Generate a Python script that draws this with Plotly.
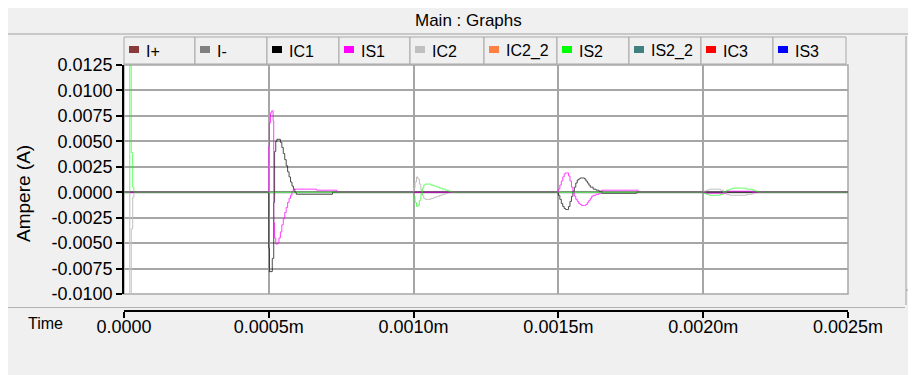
import plotly.graph_objects as go

# ---- data (time in s, current in A) ----
series_names = ["I+", "I-", "IC1", "IS1", "IC2", "IC2_2", "IS2", "IS2_2", "IC3", "IS3"]
series_colors = ["#8b3a3a", "#808080", "#000000", "#ff00ff", "#c0c0c0",
                 "#ff8040", "#00ff00", "#408080", "#ff0000", "#0000ff"]

t_flat = [0, 0.0025]
v_flat = [0, 0]

t_is2 = [0, 0.00002, 0.000025, 0.00003, 0.000034,
         0.001, 0.001005, 0.00101, 0.001015, 0.00102, 0.001025, 0.00103, 0.001035,
         0.00104, 0.00105, 0.00106, 0.00107, 0.00108, 0.00109, 0.0011, 0.00111, 0.00112, 0.00113,
         0.002, 0.00201, 0.00202, 0.00204, 0.00206, 0.00207, 0.00208, 0.00209, 0.0021,
         0.00213, 0.00215, 0.00217, 0.00218, 0.00219, 0.0025]
v_is2 = [0, 0.016, 0.0039, 0.0005, 0,
         -0.0004, -0.0010, -0.0014, -0.0013, -0.0008, -0.0002, 0.0004, 0.0007,
         0.0008, 0.0008, 0.0007, 0.0006, 0.0005, 0.0004, 0.0003, 0.0002, 0.0001, 0,
         -0.0001, -0.0002, -0.0003, -0.0003, -0.0002, 0, 0.0002, 0.0003, 0.0004,
         0.0004, 0.0003, 0.0002, 0.0001, 0, 0]

t_ic2 = [0, 0.00002, 0.000025, 0.00003, 0.000034,
         0.001, 0.001005, 0.00101, 0.001015, 0.00102, 0.001025, 0.00103, 0.001035,
         0.00104, 0.00105, 0.00106, 0.00107, 0.00108, 0.00109, 0.0011, 0.00111, 0.00112,
         0.002, 0.00201, 0.00202, 0.00204, 0.00206, 0.00207, 0.00208, 0.00209, 0.0021,
         0.00213, 0.00215, 0.00217, 0.00218, 0.0025]
v_ic2 = [0, -0.016, -0.0036, -0.0005, 0,
         0.0004, 0.0010, 0.0015, 0.0013, 0.0008, 0.0002, -0.0003, -0.0006,
         -0.0007, -0.0007, -0.0006, -0.0005, -0.0004, -0.0003, -0.0002, -0.0001, 0,
         0.0001, 0.0002, 0.0003, 0.0003, 0.0002, 0, -0.0002, -0.0003, -0.0003,
         -0.0003, -0.0002, -0.0001, 0, 0]

t_ic1 = [0, 0.0005, 0.000502, 0.000512, 0.000517, 0.00052, 0.000524, 0.000528,
         0.00054, 0.000545, 0.00055, 0.000555, 0.00056, 0.000565, 0.00057, 0.000575,
         0.00058, 0.000585, 0.00059, 0.000595, 0.00072,
         0.0015, 0.001505, 0.00151, 0.001515, 0.00152, 0.001525, 0.00153, 0.001535,
         0.00154, 0.001545, 0.00155, 0.001555, 0.00156, 0.001565, 0.00157, 0.001575,
         0.00158, 0.001585, 0.00159, 0.001595, 0.0016, 0.001605, 0.00161, 0.00162,
         0.00163, 0.00164, 0.00165, 0.00177, 0.0025]
v_ic1 = [0, -0.0055, -0.0078, -0.0065, -0.0010, 0.0040, 0.0050, 0.0052,
         0.0049, 0.0044, 0.0038, 0.0032, 0.0026, 0.0020, 0.0015, 0.0010,
         0.0006, 0.0003, 0, -0.0002, 0,
         -0.0003, -0.0007, -0.0011, -0.0014, -0.0016, -0.0017, -0.0017, -0.0014,
         -0.0009, -0.0004, 0.0001, 0.0005, 0.0009, 0.0012, 0.0013, 0.0014,
         0.0014, 0.0014, 0.0013, 0.0011, 0.0009, 0.0007, 0.0005, 0.0003,
         0.0002, 0.0001, -0.0001, 0, 0]

t_is1 = [0, 0.0005, 0.000502, 0.000506, 0.00051, 0.000515, 0.000517, 0.00052,
         0.000524, 0.00053, 0.000535, 0.00054, 0.000545, 0.00055, 0.000555, 0.00056,
         0.000565, 0.00057, 0.000575, 0.00058, 0.000585, 0.000665, 0.000735,
         0.0015, 0.001505, 0.00151, 0.001515, 0.00152, 0.001525, 0.00153, 0.001535,
         0.00154, 0.001545, 0.00155, 0.001555, 0.00156, 0.001565, 0.00157, 0.001575,
         0.00158, 0.001585, 0.00159, 0.001595, 0.0016, 0.001605, 0.00161, 0.001615,
         0.00162, 0.00163, 0.00164, 0.00165, 0.001775,
         0.00201, 0.00208, 0.00217, 0.0025]
v_is1 = [0, 0.0045, 0.0068, 0.0078, 0.0080, 0.0070, -0.0030, -0.0045,
         -0.0051, -0.0050, -0.0045, -0.0039, -0.0032, -0.0026, -0.0020, -0.0015,
         -0.0010, -0.0006, -0.0003, 0.0001, 0.0003, 0.0002, 0,
         0.0003, 0.0007, 0.0011, 0.0015, 0.0018, 0.0019, 0.0019, 0.0016,
         0.0011, 0.0005, 0.0000, -0.0004, -0.0007, -0.0009, -0.0011, -0.0012,
         -0.0013, -0.0013, -0.0013, -0.0012, -0.0010, -0.0008, -0.0006, -0.0004,
         -0.0003, -0.0002, -0.0001, 0.0002, 0,
         -0.0001, 0.0001, 0, 0]

x_ticks = [0, 0.0005, 0.0010, 0.0015, 0.0020, 0.0025]
x_tick_labels = ["0.0000", "0.0005m", "0.0010m", "0.0015m", "0.0020m", "0.0025m"]
y_ticks = [0.0125, 0.0100, 0.0075, 0.0050, 0.0025, 0.0, -0.0025, -0.0050, -0.0075, -0.0100]
y_tick_labels = ["0.0125", "0.0100", "0.0075", "0.0050", "0.0025", "0.0000",
                 "-0.0025", "-0.0050", "-0.0075", "-0.0100"]

# ---- pixel layout helpers (screen pixels; the page body adds an 8px offset) ----
W, H = 916, 375
OFF = 8
PL, PR, PT, PB = 124, 848, 65, 294   # plot box on screen
AXY = 311                             # time axis line on screen
FONT = "Liberation Sans, Arial, sans-serif"
GRID = "#a6a6a6"


def px(x):
    return (x - PL) / (PR - PL)


def py(y):
    return (AXY - y) / (AXY - PT)


def note(text, x, y, size, xanchor="center", **kw):
    return dict(text=text, xref="paper", yref="paper", x=px(x), y=py(y),
                xanchor=xanchor, yanchor="middle", showarrow=False,
                font=dict(size=size, color=kw.pop("color", "black"), family=FONT), **kw)


def hline(x0, x1, y, color="#a0a0a0"):
    return dict(type="line", xref="paper", yref="paper", x0=px(x0), x1=px(x1),
                y0=py(y), y1=py(y), line=dict(color=color, width=1))


data_map = {
    "IS2": (t_is2, v_is2), "IC2": (t_ic2, v_ic2),
    "IC1": (t_ic1, v_ic1), "IS1": (t_is1, v_is1),
}
draw_order = ["IC2_2", "IS2_2", "IC3", "IS3", "I+", "I-", "IC2", "IC1", "IS1", "IS2"]
widths = {"I-": 2}
opac = {"IS2": 0.6, "IS1": 0.75, "IC1": 0.7}

fig = go.Figure()
for name in draw_order:
    t, v = data_map.get(name, (t_flat, v_flat))
    col = series_colors[series_names.index(name)]
    fig.add_trace(go.Scatter(
        x=t, y=v, mode="lines", name=name, line_shape="hv",
        line=dict(color=col, width=widths.get(name, 1)),
        opacity=opac.get(name, 1), showlegend=False,
    ))

shapes = []
annotations = []

# window chrome
shapes.append(hline(8, W, 34))
shapes.append(hline(8, 905, 307.5, "#b4b4b4"))
shapes.append(dict(type="line", xref="paper", yref="paper", x0=px(906), x1=px(906),
                   y0=py(36), y1=py(305), line=dict(color="#a0a0a0", width=1)))
shapes.append(hline(906, W, 290))
annotations.append(note("Main : Graphs", 468, 20, 17))
annotations.append(note("▲", 916, 46, 7, xanchor="right", color="#333"))
annotations.append(note("▼", 916, 298, 7, xanchor="right", color="#333"))

# legend tabs
tab_edges = [124, 195, 267, 339, 410, 484, 557, 629, 701, 773, 846]
for i, name in enumerate(series_names):
    x0, x1 = tab_edges[i], tab_edges[i + 1]
    shapes.append(dict(type="rect", xref="paper", yref="paper",
                       x0=px(x0), x1=px(x1), y0=py(64), y1=py(37),
                       fillcolor="#f0f0f0", line=dict(color="#a8a8a8", width=1)))
    shapes.append(dict(type="rect", xref="paper", yref="paper",
                       x0=px(x0 + 5), x1=px(x0 + 15), y0=py(53), y1=py(46),
                       fillcolor=series_colors[i], line_width=0))
    annotations.append(note(name, x0 + 20, 51, 16, xanchor="left"))

# plot box border
shapes.append(dict(type="rect", xref="paper", yref="paper", x0=0, x1=1,
                   y0=py(PB), y1=1, line=dict(color=GRID, width=1.5), layer="below"))

annotations.append(note("Ampere (A)", 23, 194, 19, textangle=-90))
annotations.append(note("Time", 45, 323, 16))

fig.update_layout(
    width=W, height=H,
    margin=dict(l=PL - OFF, r=W - (PR - OFF), t=PT - OFF, b=H - (AXY - OFF),
                pad=0, autoexpand=False),
    paper_bgcolor="#f0f0f0", plot_bgcolor="white",
    font=dict(family=FONT, size=18, color="black"),
    shapes=shapes, annotations=annotations,
    xaxis=dict(range=[0, 0.0025], tickvals=x_ticks, ticktext=x_tick_labels,
               anchor="free", position=0, showline=True, linecolor="black", linewidth=1.5,
               ticks="outside", ticklen=6, tickcolor="black", tickwidth=1.5,
               showgrid=True, gridcolor=GRID, gridwidth=1.5, zeroline=False,
               tickfont=dict(size=18), automargin=False, ticklabelstandoff=-6),
    yaxis=dict(range=[-0.01, 0.0125], domain=[py(PB), 1], tickvals=y_ticks,
               ticktext=y_tick_labels, showline=True, linecolor="black", linewidth=1.5,
               ticks="outside", ticklen=6, tickcolor="black", tickwidth=1.5,
               showgrid=True, gridcolor=GRID, gridwidth=1.5, zeroline=False,
               tickfont=dict(size=18), automargin=False),
)

fig.write_html("out.html")
